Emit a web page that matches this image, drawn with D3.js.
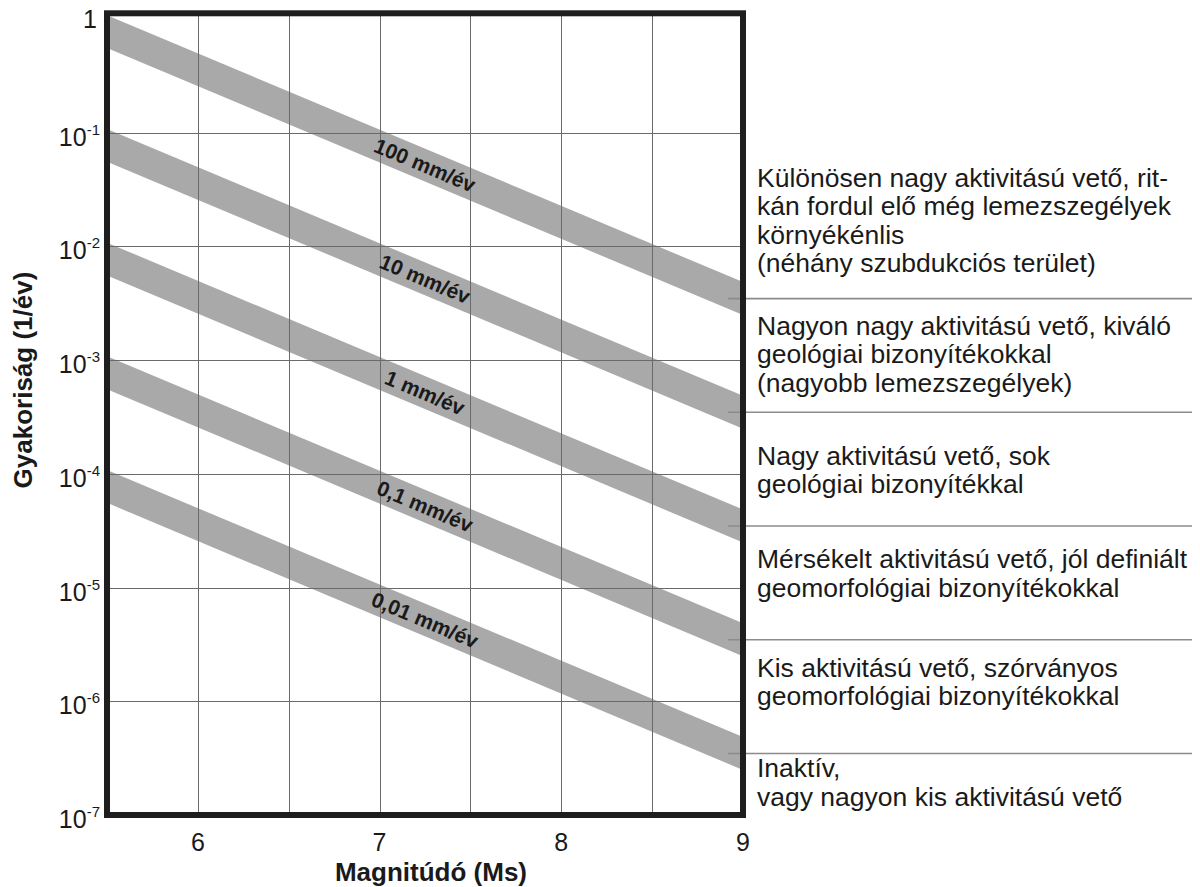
<!DOCTYPE html>
<html><head><meta charset="utf-8">
<script src="https://cdn.jsdelivr.net/npm/d3@7"></script>
<style>
body{margin:0;background:#fff;}
svg{display:block;font-family:"Liberation Sans",Arial,Helvetica,sans-serif;}
</style>
</head><body>
<svg id="chart" width="1200" height="887"></svg>
<script>
// ---------------- data ----------------
const magnitudeEnds = [5.5, 9];
const xTickValues = [6, 7, 8, 9];
const xGridValues = [6, 6.5, 7, 7.5, 8, 8.5];
const yTickExponents = [0, -1, -2, -3, -4, -5, -6, -7];
const yGridExponents = [-1, -2, -3, -4, -5, -6];
const slipRateLabels = ["100 mm/év", "10 mm/év", "1 mm/év", "0,1 mm/év", "0,01 mm/év"];
// band edges (frequency, 1/év) at M = 5.5 and M = 9
const upperAtStart = [1.08, 0.108, 0.0108, 0.00108, 0.000108];
const lowerAtStart = [0.556, 0.0556, 0.00556, 0.000556, 0.0000556];
const upperAtEnd = [0.00486, 0.000486, 0.0000486, 0.00000486, 0.000000486];
const lowerAtEnd = [0.00249, 0.000249, 0.0000249, 0.00000249, 0.000000249];
const labelMagnitude = 7.25;
const activityClasses = [
  ["Különösen nagy aktivitású vető, rit-", "kán fordul elő még lemezszegélyek", "környékénlis", "(néhány szubdukciós terület)"],
  ["Nagyon nagy aktivitású vető, kiváló", "geológiai bizonyítékokkal", "(nagyobb lemezszegélyek)"],
  ["Nagy aktivitású vető, sok", "geológiai bizonyítékkal"],
  ["Mérsékelt aktivitású vető, jól definiált", "geomorfológiai bizonyítékokkal"],
  ["Kis aktivitású vető, szórványos", "geomorfológiai bizonyítékokkal"],
  ["Inaktív,", "vagy nagyon kis aktivitású vető"]
];
const xTitle = "Magnitúdó (Ms)";
const yTitle = "Gyakoriság (1/év)";

// ---------------- layout ----------------
const plot = {left: 107, right: 743, top: 19, bottom: 815};
const frameTop = 13.3;
const textX = 757;
const blockFirstBaseline = [186.7, 335, 465, 568.3, 676.7, 777.3];
const lineStep = 28.4;

const svg = d3.select("#chart");
svg.append("rect").attr("width", 1200).attr("height", 887).attr("fill", "#fff");

const x = d3.scaleLinear().domain([5.5, 9]).range([plot.left, plot.right]);
const y = d3.scaleLog().domain([1e-7, 1]).range([plot.bottom, plot.top]);

svg.append("defs").append("clipPath").attr("id", "clip")
  .append("rect").attr("x", plot.left).attr("y", frameTop)
  .attr("width", plot.right - plot.left).attr("height", plot.bottom - frameTop);

// bands
const bands = slipRateLabels.map((label, i) => ({
  label,
  pts: magnitudeEnds.map((m, j) => ({
    m,
    hi: j === 0 ? upperAtStart[i] : upperAtEnd[i],
    lo: j === 0 ? lowerAtStart[i] : lowerAtEnd[i]
  }))
}));
const area = d3.area().x(d => x(d.m)).y0(d => y(d.lo)).y1(d => y(d.hi));
const gBands = svg.append("g").attr("clip-path", "url(#clip)");
gBands.selectAll("path").data(bands).join("path")
  .attr("d", d => area(d.pts)).attr("fill", "#a9a9a9");

// right-side dividers (band centre at M = 9)
const centerAt = (b, m) => {
  const t = (m - magnitudeEnds[0]) / (magnitudeEnds[1] - magnitudeEnds[0]);
  const lh = Math.log10(b.pts[0].hi) * (1 - t) + Math.log10(b.pts[1].hi) * t;
  const ll = Math.log10(b.pts[0].lo) * (1 - t) + Math.log10(b.pts[1].lo) * t;
  return Math.pow(10, (lh + ll) / 2);
};
svg.append("g").selectAll("line").data(bands).join("line")
  .attr("x1", x(9) - 15).attr("x2", 1192)
  .attr("y1", d => y(centerAt(d, 9))).attr("y2", d => y(centerAt(d, 9)))
  .attr("stroke", "#8c8c8c").attr("stroke-width", 1.6);

// grid
const gGrid = svg.append("g").attr("stroke", "#6a6a6a").attr("stroke-width", 1);
gGrid.selectAll("line.v").data(xGridValues).join("line").attr("class", "v")
  .attr("x1", d => Math.round(x(d)) + 0.5).attr("x2", d => Math.round(x(d)) + 0.5)
  .attr("y1", frameTop).attr("y2", plot.bottom);
gGrid.selectAll("line.h").data(yGridExponents).join("line").attr("class", "h")
  .attr("x1", plot.left).attr("x2", plot.right)
  .attr("y1", d => Math.round(y(Math.pow(10, d))) + 0.5)
  .attr("y2", d => Math.round(y(Math.pow(10, d))) + 0.5);

// band labels
const angle = b => {
  const y0 = y(centerAt(b, magnitudeEnds[0])), y1 = y(centerAt(b, magnitudeEnds[1]));
  return Math.atan2(y1 - y0, x(magnitudeEnds[1]) - x(magnitudeEnds[0])) * 180 / Math.PI;
};
svg.append("g").selectAll("text").data(bands).join("text")
  .attr("transform", d => `translate(${x(labelMagnitude)},${y(centerAt(d, labelMagnitude))}) rotate(${angle(d)})`)
  .attr("text-anchor", "middle").attr("dy", "0.36em")
  .attr("font-size", 21).attr("font-weight", "bold").attr("fill", "#1a1a1a")
  .text(d => d.label);

// frame
svg.append("rect").attr("x", plot.left).attr("y", frameTop)
  .attr("width", plot.right - plot.left).attr("height", plot.bottom - frameTop)
  .attr("fill", "none").attr("stroke", "#1e1e1e").attr("stroke-width", 6);

// y tick labels
const yLab = svg.append("g").attr("fill", "#1a1a1a");
yTickExponents.forEach(e => {
  const yy = y(Math.pow(10, e));
  if (e === 0) {
    yLab.append("text").attr("x", 97).attr("y", yy + 9).attr("text-anchor", "end")
      .attr("font-size", 25).text("1");
  } else {
    const t = yLab.append("text").attr("x", 100).attr("y", yy + 13).attr("text-anchor", "end")
      .attr("font-size", 25);
    t.append("tspan").text("10");
    t.append("tspan").attr("font-size", 15).attr("dy", -11).text(String(e));
  }
});

// x tick labels
svg.append("g").selectAll("text").data(xTickValues).join("text")
  .attr("x", d => x(d)).attr("y", 851).attr("text-anchor", "middle")
  .attr("font-size", 25).attr("fill", "#1a1a1a").text(d => d);

// axis titles
svg.append("text").attr("x", 431).attr("y", 881).attr("text-anchor", "middle")
  .attr("font-size", 26).attr("font-weight", "bold").attr("fill", "#1a1a1a").text(xTitle);
svg.append("text").attr("transform", "translate(32,380) rotate(-90)").attr("text-anchor", "middle")
  .attr("font-size", 26).attr("font-weight", "bold").attr("fill", "#1a1a1a").text(yTitle);

// right-side descriptions
const gDesc = svg.append("g").attr("font-size", 26.5).attr("fill", "#1a1a1a");
activityClasses.forEach((lines, i) => {
  const t = gDesc.append("text");
  lines.forEach((ln, k) => {
    t.append("tspan").attr("x", textX).attr("y", blockFirstBaseline[i] + k * lineStep).text(ln);
  });
});
</script>
</body></html>
